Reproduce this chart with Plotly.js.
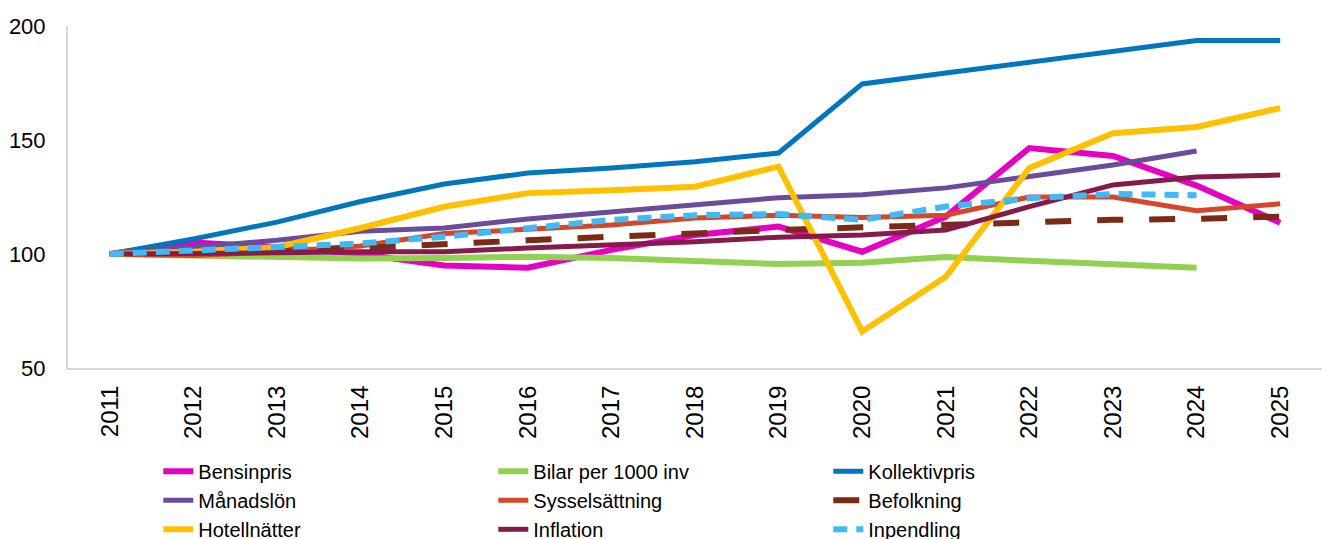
<!DOCTYPE html>
<html>
<head>
<meta charset="utf-8">
<script src="https://cdn.plot.ly/plotly-3.0.1.min.js"></script>
<style>
  html, body { margin: 0; padding: 0; background: #fff; }
  #chart_div { width: 1322px; height: 539px; }
</style>
</head>
<body>
<div id="chart_div"></div>
<script>
// index values (2011 = 100)
var years = ['2011', '2012', '2013', '2014', '2015', '2016', '2017', '2018',
             '2019', '2020', '2021', '2022', '2023', '2024', '2025'];

var bensinpris     = [100, 105, 103, 100, 95, 94, 101.8, 108.3, 112, 101, 116.4, 146.5, 143, 130, 113.7];
var bilar          = [100, 99.5, 98.5, 98, 98.2, 98.8, 98.2, 96.6, 95.6, 96.2, 98.7, 97, 95.6, 94];
var kollektivpris  = [100, 106.6, 114, 123, 130.7, 135.5, 137.7, 140.5, 144.3, 174.6, 179.4, 184, 188.6, 193.6, 193.6];
var manadslon      = [100, 103, 106, 110, 111.4, 115.4, 118.6, 121.5, 124.7, 126, 129, 134, 139, 145.2];
var sysselsattning = [100, 99.3, 101, 103.5, 109, 111, 112.7, 115.8, 117, 116, 117, 125, 125, 119, 122];
var befolkning     = [100, 100.6, 101.5, 102.6, 104.6, 106, 107.6, 109.2, 110.5, 111.7, 113, 114.2, 115, 115.4, 116.4];
var hotellnatter   = [100, 101, 103, 111.4, 120.7, 126.7, 128, 129.5, 138.3, 66, 90, 137.7, 153, 155.7, 164];
var inflation      = [100, 100, 100.5, 101, 101, 102.6, 104, 105.4, 107.4, 108.3, 110.5, 120.8, 130.3, 133.8, 134.6];
var inpendling     = [100, 101.5, 102.7, 104.6, 107.6, 111.4, 115, 117, 117.5, 115, 120.8, 124.5, 126.3, 125.8];


function make_trace(name, values, color, width, dash)
{
    var trace = {
        x: years.slice(0, values.length),
        y: values,
        name: name,
        mode: 'lines',
        line: {
            color: color,
            width: width,
            dash: dash || 'solid'
        },
        hoverinfo: 'x+y+name'
    };
    return trace;
}


function create_layout()
{
    var layout = {
        width: 1322,
        height: 539,
        margin: {l: 68, r: 0, t: 26, b: 171, autoexpand: false},
        paper_bgcolor: '#ffffff',
        plot_bgcolor: '#ffffff',
        font: {family: 'Liberation Sans, Arial, sans-serif', size: 22, color: '#000000'},
        showlegend: true,
        xaxis:
        {
            type: 'category',
            range: [-0.5, 14.5],
            tickangle: -90,
            showgrid: false,
            showline: true,
            linecolor: '#D9D9D9',
            linewidth: 2,
            ticks: '',
            ticklabelstandoff: 6,
            tickfont: {size: 24},
            zeroline: false,
            automargin: false
        },
        yaxis:
        {
            range: [50, 200],
            tickvals: [50, 100, 150, 200],
            showgrid: false,
            showline: true,
            linecolor: '#D9D9D9',
            linewidth: 2,
            ticks: '',
            ticklabelstandoff: 16,
            tickfont: {size: 22},
            zeroline: false,
            automargin: false
        },
        legend:
        {
            orientation: 'h',
            x: 0.072,
            xanchor: 'left',
            y: -0.245,
            yanchor: 'top',
            entrywidth: 290,
            traceorder: 'normal',
            font: {size: 20},
            tracegroupgap: 0
        }
    };
    return layout;
}


var traces = [
    make_trace('Bensinpris', bensinpris, '#E600C3', 6),
    make_trace('Bilar per 1000 inv', bilar, '#92D050', 6),
    make_trace('Kollektivpris', kollektivpris, '#0077BD', 5),
    make_trace('Månadslön', manadslon, '#6B4C9A', 5),
    make_trace('Sysselsättning', sysselsattning, '#D4472A', 5),
    make_trace('Befolkning', befolkning, '#7B2A16', 6, '26px,26px'),
    make_trace('Hotellnätter', hotellnatter, '#FFC000', 6),
    make_trace('Inflation', inflation, '#861A4A', 5),
    make_trace('Inpendling', inpendling, '#3FBAF5', 6, '14px,9px')
];

Plotly.newPlot('chart_div', traces, create_layout(), {displayModeBar: false, staticPlot: true});
</script>
</body>
</html>
